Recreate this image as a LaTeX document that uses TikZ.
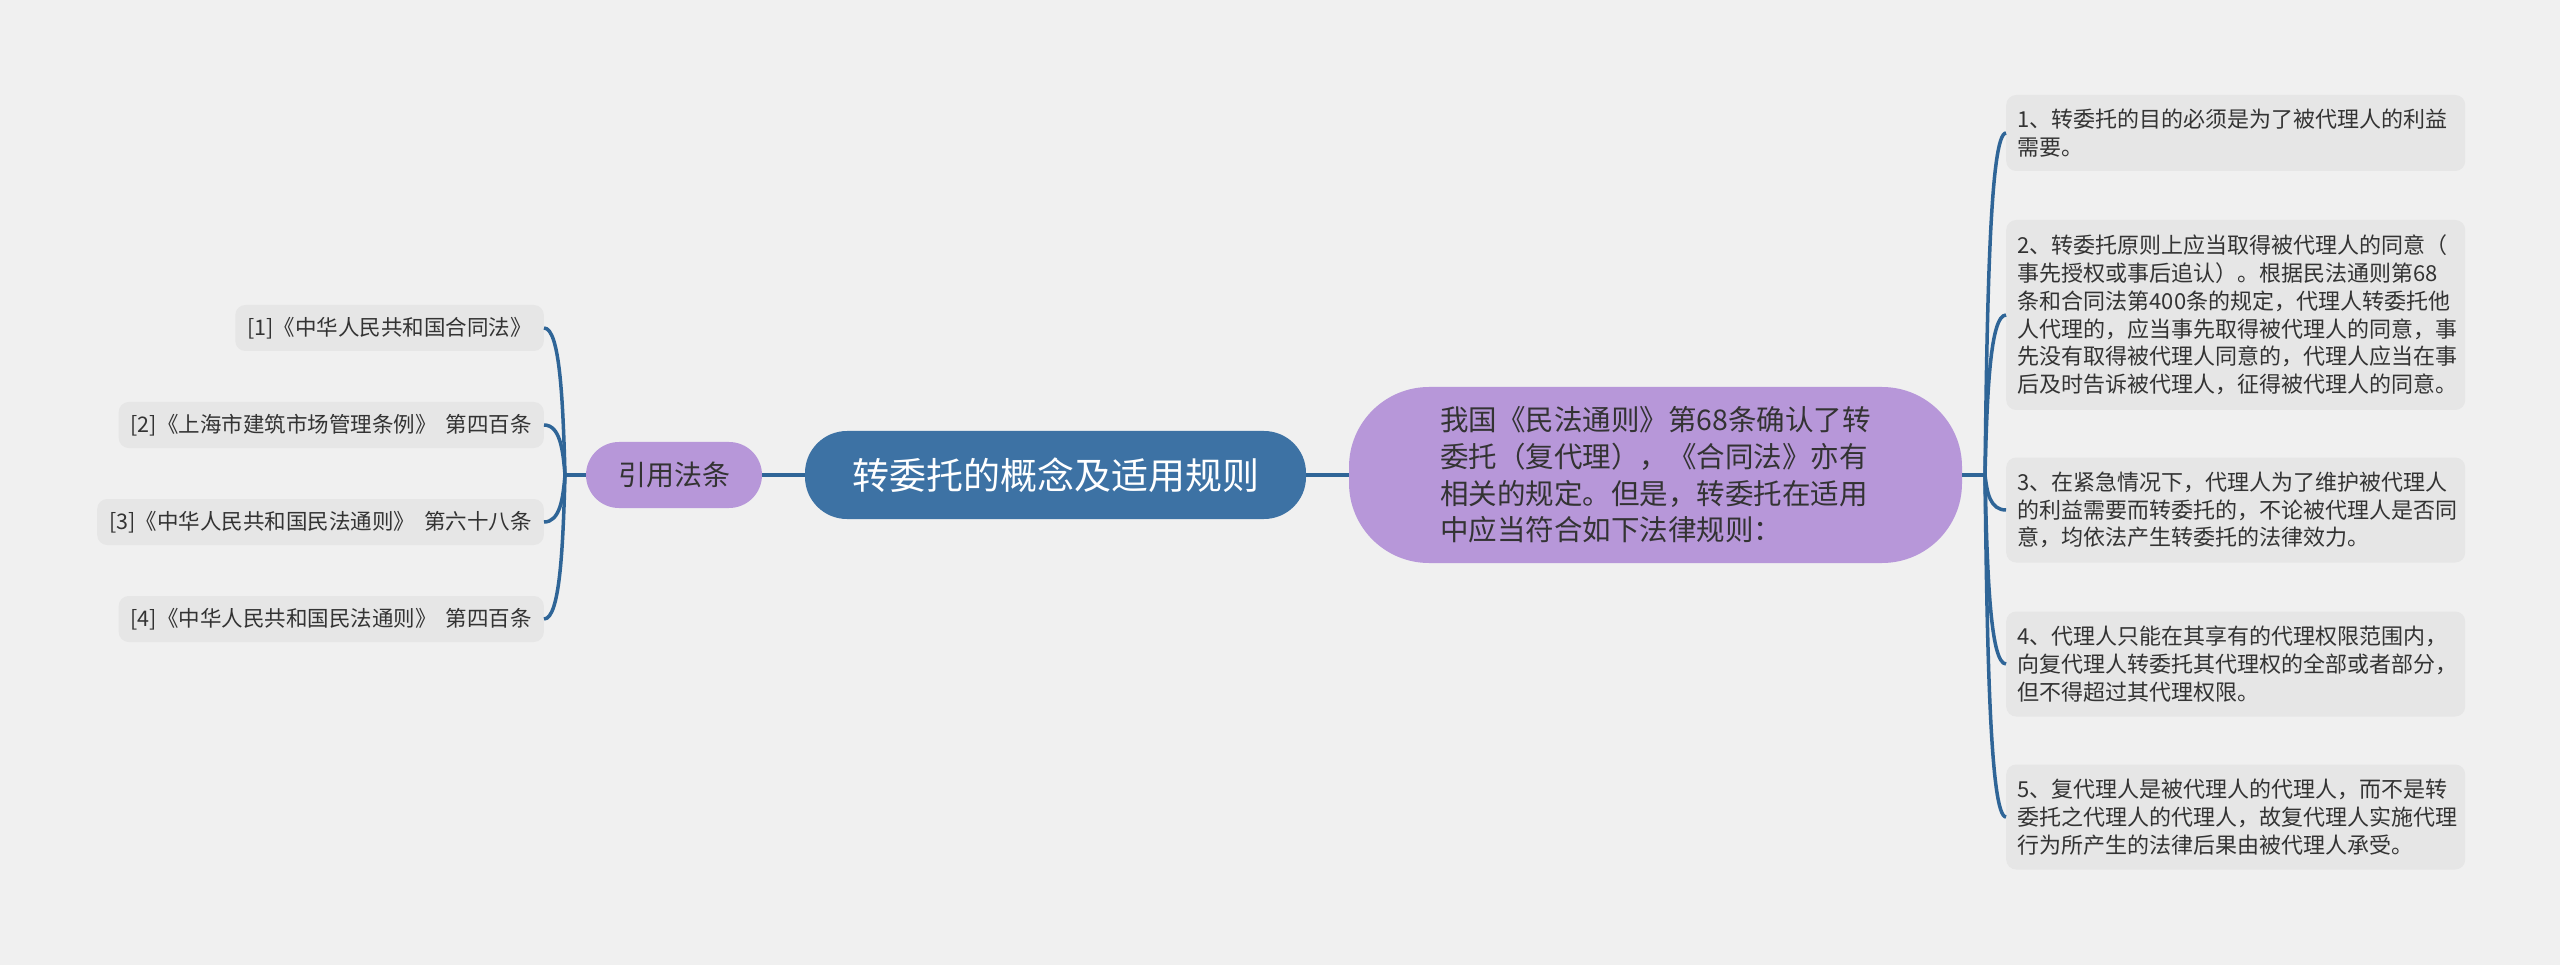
\documentclass[tikz,border=0pt]{standalone}
\usepackage{fontspec}
\setmainfont{Noto Sans CJK SC}
\usetikzlibrary{calc}
\definecolor{bgc}{HTML}{F0F0F0}
\definecolor{mainblue}{HTML}{3D72A4}
\definecolor{linec}{HTML}{2F6597}
\definecolor{purp}{HTML}{B797D9}
\definecolor{leafc}{HTML}{E6E6E6}
\definecolor{txt}{HTML}{333333}
\begin{document}
\begin{tikzpicture}[x=1pt,y=-1pt,
  rootnode/.style={fill=mainblue, text=white, rounded corners=42pt, minimum width=501pt, minimum height=88pt, inner sep=0pt, font=\fontsize{37}{44}\selectfont},
  subnode/.style={fill=purp, text=txt},
  leafbox/.style={fill=leafc, text=txt, rounded corners=10pt},
  rleaf/.style={leafbox, anchor=west, text width=436pt, inner xsep=11.5pt, align=left, font=\fontsize{22}{27.7}\selectfont},
  lleaf/.style={leafbox, anchor=east, inner xsep=12pt, minimum height=46pt, font=\fontsize{21.5}{26}\selectfont},
  conn/.style={draw=linec, line width=3.5pt}]
\fill[bgc] (0,0) rectangle (2560,965);

\node[rootnode] (root) at (1055.5,475) {转委托的概念及适用规则};
\node[subnode, minimum width=176pt, minimum height=66pt, rounded corners=33pt, inner sep=0pt, font=\fontsize{28}{34}\selectfont] (cite) at (674,475) {引用法条};
\node[subnode, minimum width=613pt, minimum height=176pt, rounded corners=80pt, text width=431pt, align=left, font=\fontsize{28.5}{36.7}\selectfont] (intro) at (1655.5,475) {我国《民法通则》第68条确认了转\\委托（复代理），《合同法》亦有\\相关的规定。但是，转委托在适用\\中应当符合如下法律规则：};

\coordinate (jr) at (1985,475);
\coordinate (jl) at (565,475);

\node[rleaf, minimum height=76pt] (r1) at (2006,133) {1、转委托的目的必须是为了被代理人的利益\\需要。};
\node[rleaf, minimum height=190pt] (r2) at (2006,315) {2、转委托原则上应当取得被代理人的同意（\\事先授权或事后追认）。根据民法通则第68\\条和合同法第400条的规定，代理人转委托他\\人代理的，应当事先取得被代理人的同意，事\\先没有取得被代理人同意的，代理人应当在事\\后及时告诉被代理人，征得被代理人的同意。};
\node[rleaf, minimum height=105pt] (r3) at (2006,510) {3、在紧急情况下，代理人为了维护被代理人\\的利益需要而转委托的，不论被代理人是否同\\意，均依法产生转委托的法律效力。};
\node[rleaf, minimum height=105pt] (r4) at (2006,664) {4、代理人只能在其享有的代理权限范围内，\\向复代理人转委托其代理权的全部或者部分，\\但不得超过其代理权限。};
\node[rleaf, minimum height=105pt] (r5) at (2006,817) {5、复代理人是被代理人的代理人，而不是转\\委托之代理人的代理人，故复代理人实施代理\\行为所产生的法律后果由被代理人承受。};

\node[lleaf] (l1) at (544,328) {[1]《中华人民共和国合同法》};
\node[lleaf] (l2) at (544,425) {[2]《上海市建筑市场管理条例》 \hspace{0.2em}第四百条};
\node[lleaf] (l3) at (544,522) {[3]《中华人民共和国民法通则》 \hspace{0.2em}第六十八条};
\node[lleaf] (l4) at (544,619) {[4]《中华人民共和国民法通则》 \hspace{0.2em}第四百条};

\draw[conn] (cite.east) -- (root.west);
\draw[conn] (root.east) -- (intro.west);
\draw[conn] (intro.east) -- (jr);
\draw[conn] (cite.west) -- (jl);
\foreach \n in {r1,r2,r3,r4,r5}
  \draw[conn] (jr) .. controls ($(jr)!0.5!(jr |- \n.west)+(2,0)$) and ($(jr |- \n.west)+(5,0)$) .. (\n.west);
\foreach \n in {l1,l2,l3,l4}
  \draw[conn] (jl) .. controls ($(jl)!0.5!(jl |- \n.east)+(-2,0)$) and ($(jl |- \n.east)+(-5,0)$) .. (\n.east);
\end{tikzpicture}
\end{document}
